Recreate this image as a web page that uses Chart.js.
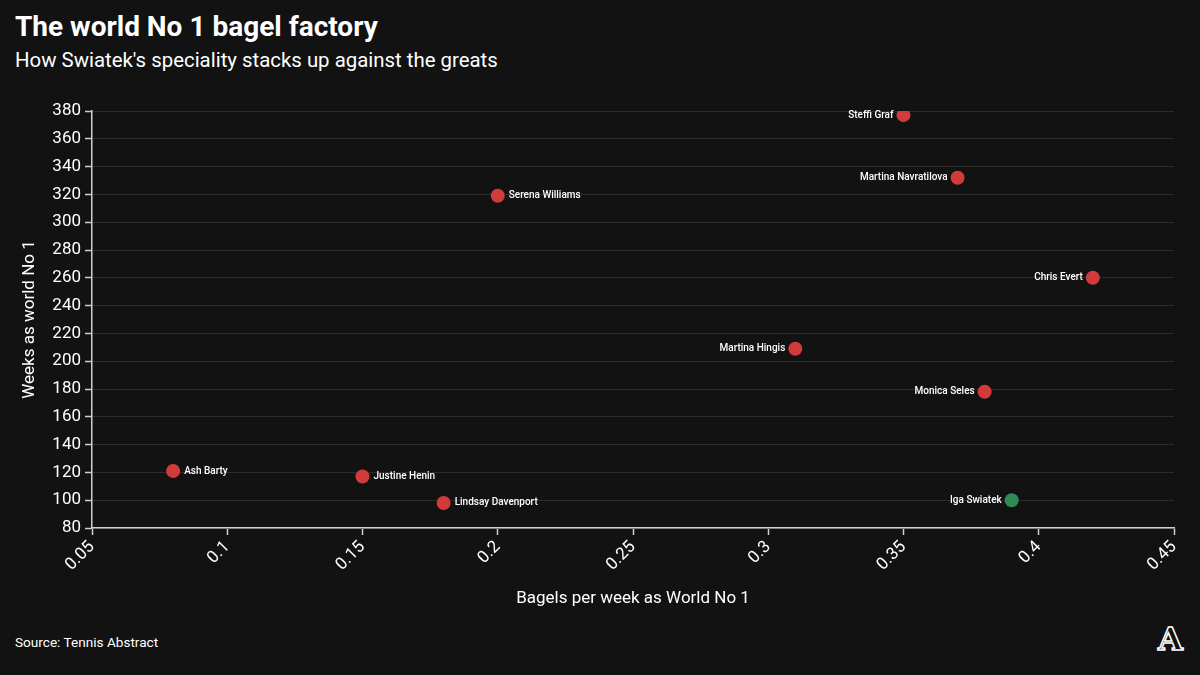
<!DOCTYPE html>
<html>
<head>
<meta charset="utf-8">
<script src="https://cdn.jsdelivr.net/npm/chart.js@4.4.1/dist/chart.umd.min.js"></script>
<style>
  html, body { margin: 0; padding: 0; background: #121212; }
  body { width: 1200px; height: 675px; position: relative; overflow: hidden; font-family: Roboto, "Liberation Sans", sans-serif; color: #fff; }
  #title { position: absolute; left: 15px; top: 10px; font-size: 28px; font-weight: 700; letter-spacing: 0px; }
  #subtitle { position: absolute; left: 15px; top: 48px; font-size: 20.4px; font-weight: 400; }
  #source { position: absolute; left: 15px; top: 634px; font-size: 13.6px; }
  #logo { position: absolute; left: 1158px; top: 620px; font-family: "DejaVu Serif", serif; font-size: 32px; font-weight: 700; color: #121212; -webkit-text-stroke: 1.5px #fff; }
  canvas { position: absolute; left: 0; top: 0; }
</style>
</head>
<body>
<div id="title">The world No 1 bagel factory</div>
<div id="subtitle">How Swiatek's speciality stacks up against the greats</div>
<div id="source">Source: Tennis Abstract</div>
<div id="logo">A</div>
<canvas id="c" width="1200" height="675"></canvas>
<script>
const players = ["Steffi Graf", "Martina Navratilova", "Serena Williams", "Chris Evert", "Martina Hingis", "Monica Seles", "Ash Barty", "Justine Henin", "Lindsay Davenport", "Iga Swiatek"];
const bagelsPerWeek = [0.35, 0.37, 0.20, 0.42, 0.31, 0.38, 0.08, 0.15, 0.18, 0.39];
const weeksAtNo1 = [377, 332, 319, 260, 209, 178, 121, 117, 98, 100];
const labelSide = ["left", "left", "right", "left", "left", "left", "right", "right", "right", "left"];
const highlighted = "Iga Swiatek";
const xTickValues = [0.05, 0.1, 0.15, 0.2, 0.25, 0.3, 0.35, 0.4, 0.45];
const yTickValues = [80, 100, 120, 140, 160, 180, 200, 220, 240, 260, 280, 300, 320, 340, 360, 380];

const RED = "#d13b3b", GREEN = "#2f8a55";
const FONT = "Roboto, 'Liberation Sans', sans-serif";

const labelPlugin = {
  id: "pointLabels",
  afterDatasetsDraw(chart) {
    const ctx = chart.ctx;
    const meta = chart.getDatasetMeta(0);
    ctx.save();
    ctx.font = "500 10px " + FONT;
    ctx.fillStyle = "#ffffff";
    ctx.textBaseline = "middle";
    meta.data.forEach((el, i) => {
      const side = labelSide[i];
      if (side === "left") {
        ctx.textAlign = "right";
        ctx.fillText(players[i], el.x - 10, el.y);
      } else {
        ctx.textAlign = "left";
        ctx.fillText(players[i], el.x + 11, el.y);
      }
    });
    ctx.restore();
  }
};

new Chart(document.getElementById("c"), {
  type: "scatter",
  data: {
    datasets: [{
      data: bagelsPerWeek.map((x, i) => ({ x: x, y: weeksAtNo1[i] })),
      backgroundColor: players.map(p => p === highlighted ? GREEN : RED),
      borderWidth: 0,
      pointRadius: 7,
      pointHoverRadius: 7
    }]
  },
  options: {
    responsive: false,
    animation: false,
    events: [],
    layout: { padding: { left: 0, top: 111, right: 26, bottom: 0 } },
    plugins: { legend: { display: false }, tooltip: { enabled: false } },
    scales: {
      x: {
        type: "linear",
        min: 0.05, max: 0.45,
        afterBuildTicks(scale) { scale.ticks = xTickValues.map(v => ({ value: v })); },
        afterFit(scale) { scale.height = 147; },
        border: { color: "#d0d0d0", width: 1.5 },
        grid: { drawOnChartArea: false, drawTicks: true, tickLength: 7, tickColor: "#d0d0d0", tickWidth: 1.5 },
        ticks: {
          color: "#ffffff", font: { family: FONT, size: 17 }, padding: 2,
          minRotation: 45, maxRotation: 45,
          callback: v => String(Number(v.toFixed(2)))
        },
        title: { display: true, text: "Bagels per week as World No 1", color: "#ffffff", font: { family: FONT, size: 17 }, padding: { top: 0, bottom: 66 } }
      },
      y: {
        type: "linear",
        min: 80, max: 380,
        afterBuildTicks(scale) { scale.ticks = yTickValues.map(v => ({ value: v })); },
        afterFit(scale) { scale.width = 92; },
        border: { color: "#d0d0d0", width: 1.5 },
        grid: { color: "#2c2c2c", lineWidth: 1, drawTicks: true, tickLength: 7, tickColor: "#d0d0d0", tickWidth: 1.5 },
        ticks: { color: "#ffffff", font: { family: FONT, size: 17 }, padding: 4 },
        title: { display: true, text: "Weeks as world No 1", color: "#ffffff", font: { family: FONT, size: 17 }, padding: { top: 20, bottom: 0 } }
      }
    }
  },
  plugins: [labelPlugin]
});
</script>
</body>
</html>
